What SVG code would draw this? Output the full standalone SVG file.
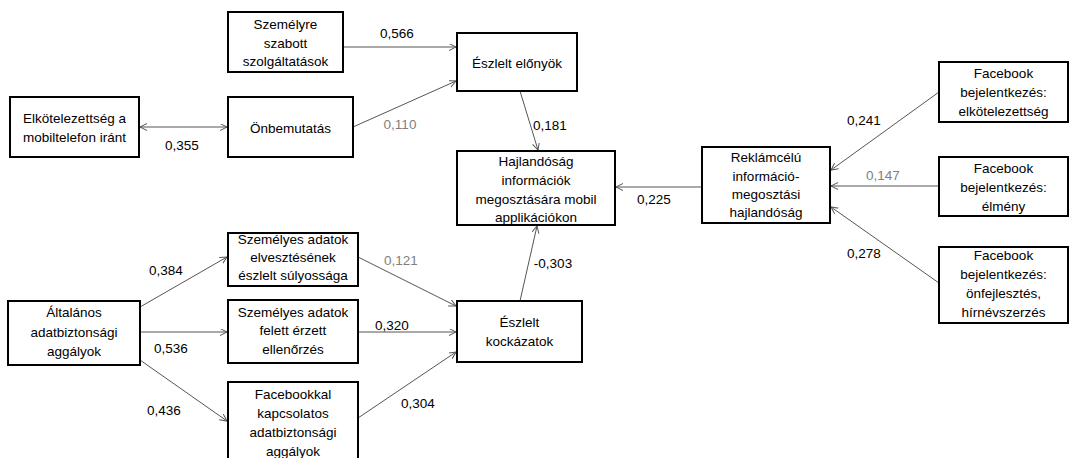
<svg xmlns="http://www.w3.org/2000/svg" width="1071" height="458" viewBox="0 0 1071 458">
<defs>
<marker id="ah" markerWidth="8" markerHeight="8" refX="7" refY="3.5" orient="auto-start-reverse" markerUnits="userSpaceOnUse">
<path d="M0,0 L7,3.5 L0,7" fill="none" stroke="#555" stroke-width="1"/>
</marker>
</defs>
<style>
.box{fill:#fff;stroke:#000;stroke-width:2}
text{font-family:"Liberation Sans",Arial,sans-serif;font-size:13.5px;fill:#000}
.t{text-anchor:middle}
.g{fill:#7f7f7f}
.c line{stroke:#555;stroke-width:1;marker-end:url(#ah)}
</style>
<rect width="1071" height="458" fill="#fff"/>
<g class="c" id="connectors">
<line x1="343" y1="47" x2="456" y2="47"/>
<line x1="353" y1="127" x2="456" y2="81"/>
<line x1="140" y1="127" x2="227" y2="127" marker-start="url(#ah)"/>
<line x1="520" y1="91" x2="538" y2="150"/>
<line x1="702" y1="187" x2="616" y2="187"/>
<line x1="939" y1="92" x2="831" y2="170"/>
<line x1="939" y1="186" x2="831" y2="186"/>
<line x1="939" y1="283" x2="831" y2="207"/>
<line x1="140" y1="307" x2="227" y2="257"/>
<line x1="140" y1="332" x2="227" y2="332"/>
<line x1="140" y1="360" x2="227" y2="421"/>
<line x1="358" y1="257" x2="456" y2="306"/>
<line x1="358" y1="332" x2="456" y2="332"/>
<line x1="358" y1="418" x2="456" y2="352"/>
<line x1="520" y1="301" x2="537" y2="226"/>
</g>
<g id="labels">
<text class="t" x="397" y="38">0,566</text>
<text class="t g" x="400" y="129">0,110</text>
<text class="t" x="182" y="150">0,355</text>
<text x="533" y="130">0,181</text>
<text class="t" x="654" y="204">0,225</text>
<text class="t" x="864" y="125">0,241</text>
<text class="t g" x="883" y="180">0,147</text>
<text class="t" x="864" y="258">0,278</text>
<text class="t" x="166" y="275">0,384</text>
<text class="t" x="171" y="353">0,536</text>
<text class="t" x="164" y="415">0,436</text>
<text class="t g" x="401" y="265">0,121</text>
<text class="t" x="392" y="330">0,320</text>
<text class="t" x="418" y="408">0,304</text>
<text class="t" x="553" y="268">-0,303</text>
</g>
<g id="n-szemelyre"><rect class="box" x="228" y="12" width="115" height="60"/>
<text class="t" x="285.5" y="29">Személyre</text><text class="t" x="285.5" y="48">szabott</text><text class="t" x="285.5" y="66">szolgáltatások</text></g>
<g id="n-elkotelezettseg"><rect class="box" x="10" y="97" width="129" height="60"/>
<text class="t" x="74.5" y="123">Elkötelezettség a</text><text class="t" x="74.5" y="142">mobiltelefon iránt</text></g>
<g id="n-onbemutatas"><rect class="box" x="228" y="97" width="125" height="60"/>
<text class="t" x="290.5" y="133">Önbemutatás</text></g>
<g id="n-elonyok"><rect class="box" x="457" y="33" width="120" height="58"/>
<text class="t" x="517" y="68">Észlelt előnyök</text></g>
<g id="n-hajlandosag"><rect class="box" x="457" y="151" width="158" height="74"/>
<text class="t" x="536" y="166">Hajlandóság</text><text class="t" x="536" y="185">információk</text><text class="t" x="536" y="204">megosztására mobil</text><text class="t" x="536" y="222">applikációkon</text></g>
<g id="n-reklam"><rect class="box" x="702" y="147" width="128" height="76"/>
<text class="t" x="766" y="162">Reklámcélú</text><text class="t" x="766" y="181">információ-</text><text class="t" x="766" y="199">megosztási</text><text class="t" x="766" y="217">hajlandóság</text></g>
<g id="n-fb1"><rect class="box" x="939" y="62" width="129" height="60"/>
<text class="t" x="1003.5" y="78">Facebook</text><text class="t" x="1003.5" y="97">bejelentkezés:</text><text class="t" x="1003.5" y="116">elkötelezettség</text></g>
<g id="n-fb2"><rect class="box" x="939" y="157" width="129" height="59"/>
<text class="t" x="1003.5" y="173">Facebook</text><text class="t" x="1003.5" y="192">bejelentkezés:</text><text class="t" x="1003.5" y="211">élmény</text></g>
<g id="n-fb3"><rect class="box" x="939" y="247" width="129" height="76"/>
<text class="t" x="1003.5" y="260">Facebook</text><text class="t" x="1003.5" y="279">bejelentkezés:</text><text class="t" x="1003.5" y="298">önfejlesztés,</text><text class="t" x="1003.5" y="317">hírnévszerzés</text></g>
<g id="n-altalanos"><rect class="box" x="8" y="301" width="132" height="64"/>
<text class="t" x="74" y="317">Általános</text><text class="t" x="74" y="337">adatbiztonsági</text><text class="t" x="74" y="356">aggályok</text></g>
<g id="n-szem1"><rect class="box" x="228" y="233" width="130" height="53"/>
<text class="t" x="293" y="244">Személyes adatok</text><text class="t" x="293" y="262">elvesztésének</text><text class="t" x="293" y="280">észlelt súlyossága</text></g>
<g id="n-szem2"><rect class="box" x="228" y="300" width="130" height="63"/>
<text class="t" x="293" y="317">Személyes adatok</text><text class="t" x="293" y="335">felett érzett</text><text class="t" x="293" y="354">ellenőrzés</text></g>
<g id="n-facebookkal"><rect class="box" x="228" y="382" width="130" height="82"/>
<text class="t" x="293" y="399">Facebookkal</text><text class="t" x="293" y="418">kapcsolatos</text><text class="t" x="293" y="437">adatbiztonsági</text><text class="t" x="293" y="456">aggályok</text></g>
<g id="n-kockazatok"><rect class="box" x="457" y="301" width="125" height="61"/>
<text class="t" x="519.5" y="327">Észlelt</text><text class="t" x="519.5" y="346">kockázatok</text></g>
</svg>
